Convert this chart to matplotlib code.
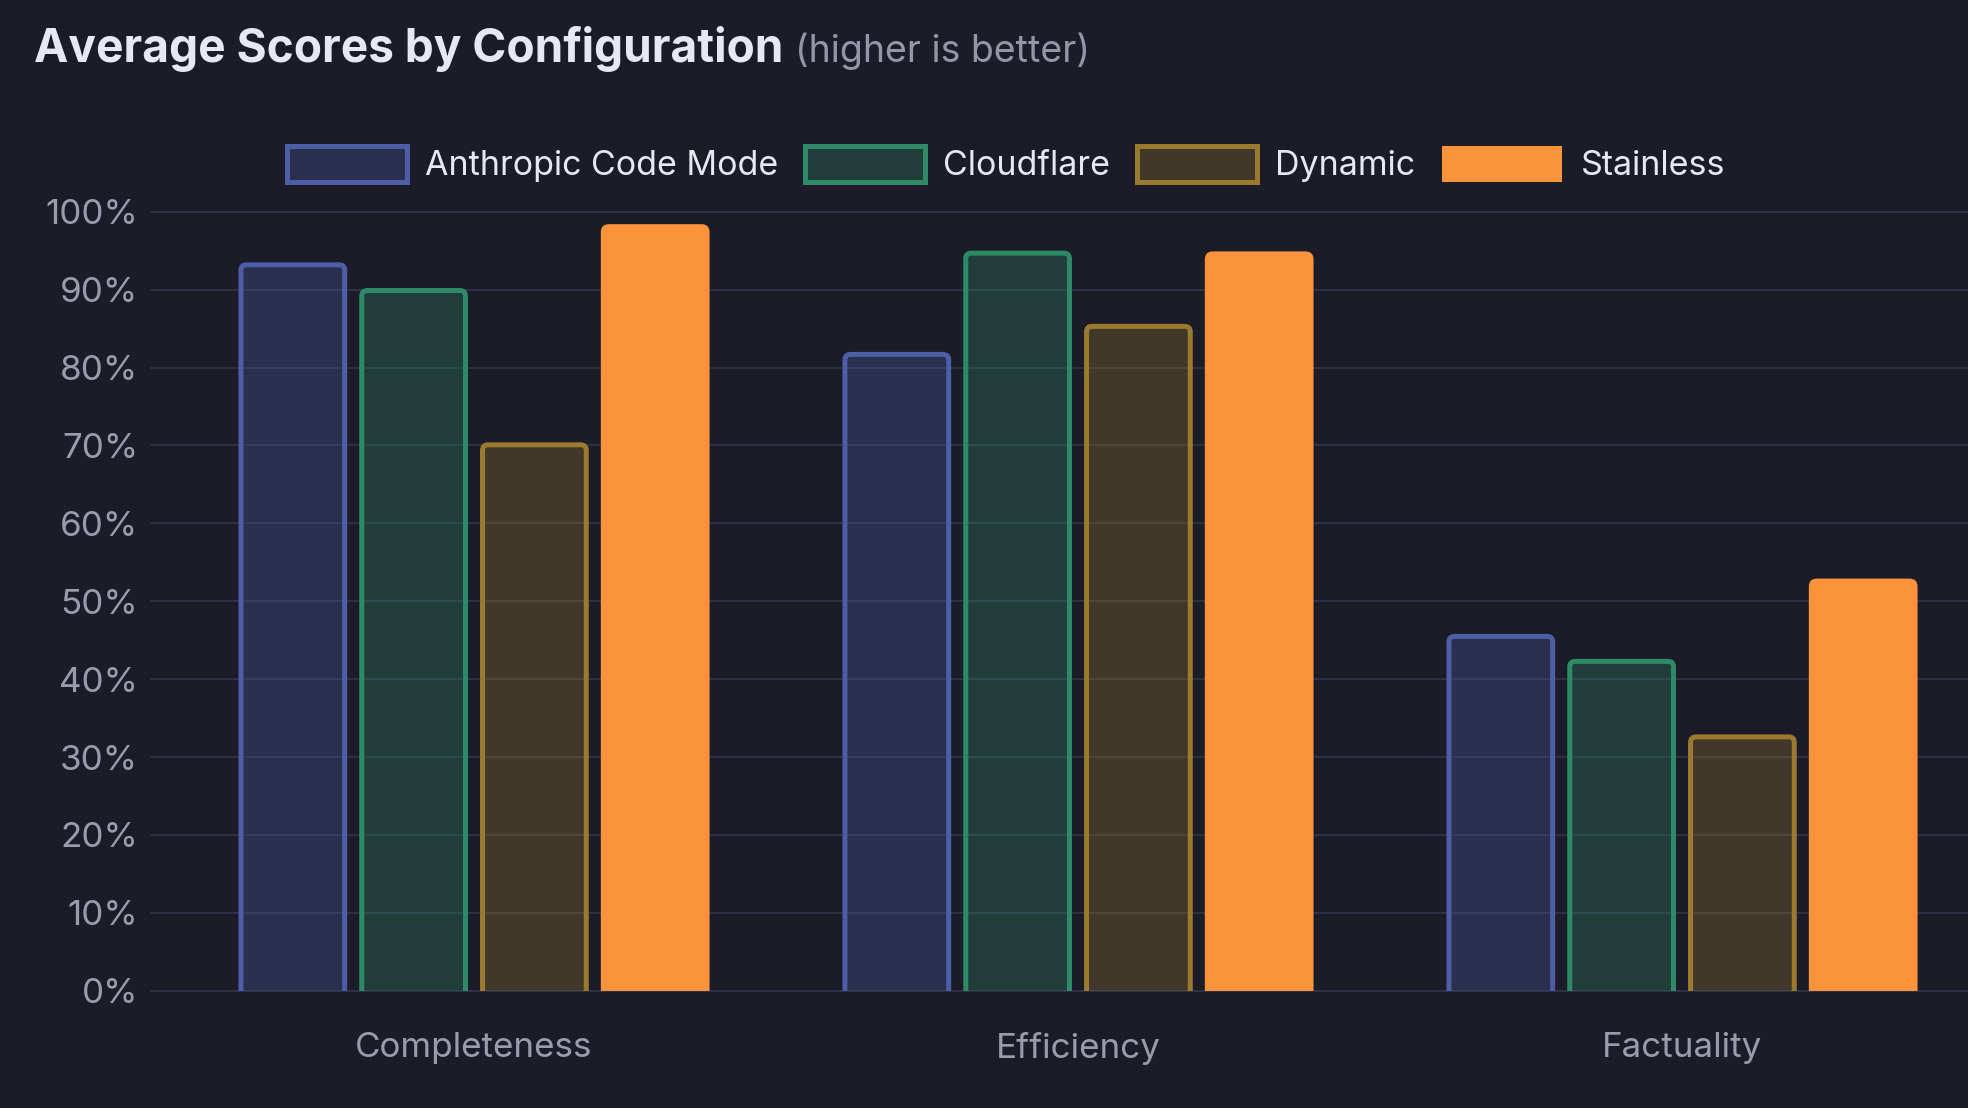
import matplotlib
matplotlib.use("Agg")
import matplotlib.pyplot as plt
from matplotlib.patches import FancyBboxPatch, Patch
from matplotlib.colors import to_rgba
import numpy as np

categories = ["Completeness", "Efficiency", "Factuality"]
configs = ["Anthropic Code Mode", "Cloudflare", "Dynamic", "Stainless"]
anthropic_scores = [93.5, 82.0, 45.8]
cloudflare_scores = [90.2, 95.0, 42.6]
dynamic_scores = [70.4, 85.6, 32.9]
stainless_scores = [98.4, 94.9, 52.9]
y_ticks = [0, 10, 20, 30, 40, 50, 60, 70, 80, 90, 100]

# colors
bg = "#1c1c28"
grid_color = "#2e3143"
tick_color = "#9a9cab"
title_color = "#e8e8f2"
sub_color = "#9496a6"
border_colors = ["#4b5ea6", "#2e8a66", "#9a7a2e", "#fb923c"]
fill_alpha = [0.3, 0.3, 0.3, 1.0]
border_px = [5, 5, 5, 0]

PX = 0.72  # points per pixel at dpi 100
W, H = 1968, 1108

plt.rcParams['font.family'] = ['Inter', 'DejaVu Sans']

fig = plt.figure(figsize=(W / 100, H / 100), dpi=100, facecolor=bg)
# axes box in pixels: left 172, top 211.7, bottom 990.7, 3 categories of 604 px
ax = fig.add_axes([172 / W, (H - 990.7) / H, 1812 / W, 779 / H])
ax.set_facecolor(bg)

xpos = np.arange(len(categories))
ax.set_xlim(-0.5, len(categories) - 0.5)
ax.set_ylim(0, 100)

# data units per pixel, for rounding the bar tops
xpp = len(categories) / 1812
ypp = 100 / 779

series = [anthropic_scores, cloudflare_scores, dynamic_scores, stainless_scores]
offsets = [-0.3, -0.1, 0.1, 0.3]
for i in range(len(series)):
    bars = ax.bar(xpos + offsets[i], series[i], width=0.18, visible=False)
    inset = border_px[i] / 2
    for rect in bars:
        x0 = rect.get_x() + inset * xpp
        w = rect.get_width() - 2 * inset * xpp
        top = rect.get_height() - inset * ypp
        r = 8 - inset
        patch = FancyBboxPatch((x0, -5), w, top + 5,
                               boxstyle="round,pad=0,rounding_size=%f" % (r * xpp),
                               mutation_aspect=ypp / xpp,
                               facecolor=to_rgba(border_colors[i], fill_alpha[i]),
                               edgecolor=border_colors[i],
                               linewidth=border_px[i] * PX, zorder=3)
        ax.add_patch(patch)

# grid and ticks
ax.set_yticks(y_ticks, ["%d%%" % v for v in y_ticks])
ax.set_xticks(xpos, categories)
ax.yaxis.grid(True, color=grid_color, linewidth=2 * PX)
ax.set_axisbelow(True)
for line in ax.yaxis.get_gridlines():
    line.set_clip_on(False)
for s in ax.spines.values():
    s.set_visible(False)
ax.tick_params(axis='y', length=22 * PX, width=2 * PX, color=grid_color,
               pad=12 * PX, labelsize=35 * PX, labelcolor=tick_color)
ax.tick_params(axis='x', length=0, pad=41 * PX, labelsize=35 * PX, labelcolor=tick_color)

# legend
handles = []
for i in range(len(configs)):
    handles.append(Patch(facecolor=to_rgba(border_colors[i], fill_alpha[i]),
                         edgecolor=border_colors[i], linewidth=border_px[i] * PX,
                         label=configs[i]))
leg = fig.legend(handles=handles, loc='center', ncol=4, frameon=False,
                 bbox_to_anchor=(1006 / W, 1 - 164 / H), bbox_transform=fig.transFigure,
                 fontsize=34 * PX, labelcolor="#e8e8f0",
                 handlelength=120 / 34, handleheight=44 / 34,
                 handletextpad=18 / 34, columnspacing=27 / 34)

# title with grey note after it
title = fig.text(34 / W, 1 - 62 / H, "Average Scores by Configuration",
                 fontsize=46 * PX, fontweight='bold', color=title_color, va='baseline')
fig.canvas.draw()
tb = title.get_window_extent()
fig.text((tb.x1 + 12) / W, 1 - 62 / H, "(higher is better)",
         fontsize=37.5 * PX, color=sub_color, va='baseline')

fig.savefig("out.png", dpi=100, facecolor=bg)
